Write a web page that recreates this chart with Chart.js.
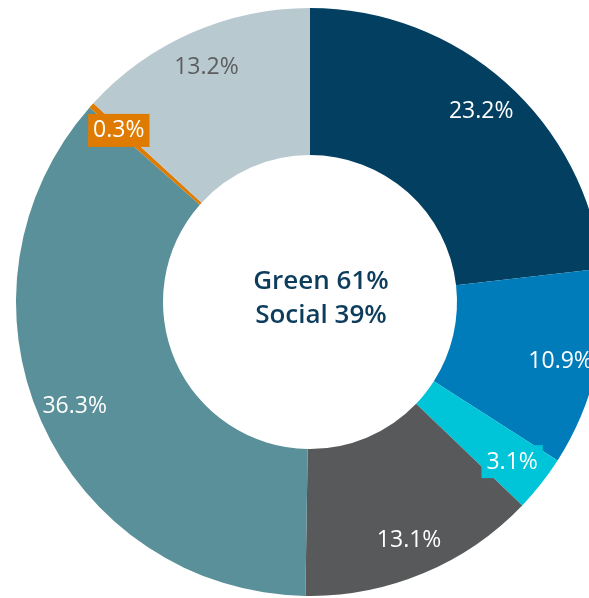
<!DOCTYPE html>
<html>
<head>
<meta charset="utf-8">
<script src="https://cdn.jsdelivr.net/npm/chart.js@4"></script>
<style>
  html, body { margin: 0; padding: 0; background: #fff; overflow: hidden; }
  #wrap { position: absolute; left: 0; top: 8px; width: 620px; height: 588px; }
</style>
</head>
<body>
<div id="wrap"><canvas id="donut" width="620" height="588"></canvas></div>
<script>
// bond allocation by category, clockwise from 12 o'clock
const categories = ["A", "B", "C", "D", "E", "F", "G"];
const shares = [23.2, 10.9, 3.1, 13.1, 36.3, 0.3, 13.2];
const centerLines = ["Green 61%", "Social 39%"];

const sliceColors = ["#023f61", "#007cba", "#00c5d8", "#58595b", "#5a9099", "#df7b00", "#b8c9d0"];
const labelColors = ["#fff", "#fff", "#fff", "#fff", "#fff", "#fff", "#5d5e60"];
const boxedLabels = [false, false, true, false, false, true, false];

// percentage labels drawn inside each ring slice
const sliceLabels = {
  id: "sliceLabels",
  afterDatasetsDraw(chart) {
    const ctx = chart.ctx;
    const meta = chart.getDatasetMeta(0);
    ctx.save();
    ctx.font = "400 23px 'Open Sans'";
    ctx.textAlign = "center";
    ctx.textBaseline = "middle";
    meta.data.forEach((arc, i) => {
      const p = arc.getProps(["x", "y", "startAngle", "endAngle", "innerRadius", "outerRadius"], true);
      const mid = (p.startAngle + p.endAngle) / 2;
      const r = p.innerRadius + (p.outerRadius - p.innerRadius) * 0.75;
      const x = p.x + Math.cos(mid) * r;
      const y = p.y + Math.sin(mid) * r;
      const txt = shares[i].toFixed(1) + "%";
      if (boxedLabels[i]) {
        const w = ctx.measureText(txt).width + 10;
        ctx.fillStyle = sliceColors[i];
        ctx.fillRect(x - w / 2, y - 16, w, 33);
      }
      ctx.fillStyle = labelColors[i];
      ctx.fillText(txt, x, y + 1);
    });
    ctx.restore();
  }
};

const centerText = {
  id: "centerText",
  afterDraw(chart) {
    const ctx = chart.ctx;
    const arc = chart.getDatasetMeta(0).data[0];
    ctx.save();
    ctx.font = "600 26px 'Open Sans'";
    ctx.fillStyle = "#0d3d5d";
    ctx.textAlign = "center";
    ctx.textBaseline = "middle";
    ctx.fillText(centerLines[0], arc.x + 11, arc.y - 20);
    ctx.fillText(centerLines[1], arc.x + 11, arc.y + 14);
    ctx.restore();
  }
};

new Chart(document.getElementById("donut").getContext("2d"), {
  type: "doughnut",
  data: {
    labels: categories,
    datasets: [{
      data: shares,
      backgroundColor: sliceColors,
      borderWidth: 0,
      hoverOffset: 0
    }]
  },
  options: {
    responsive: false,
    animation: false,
    cutout: "50%",
    layout: { padding: 0 },
    plugins: {
      legend: { display: false },
      tooltip: { enabled: false }
    }
  },
  plugins: [sliceLabels, centerText]
});
</script>
</body>
</html>
